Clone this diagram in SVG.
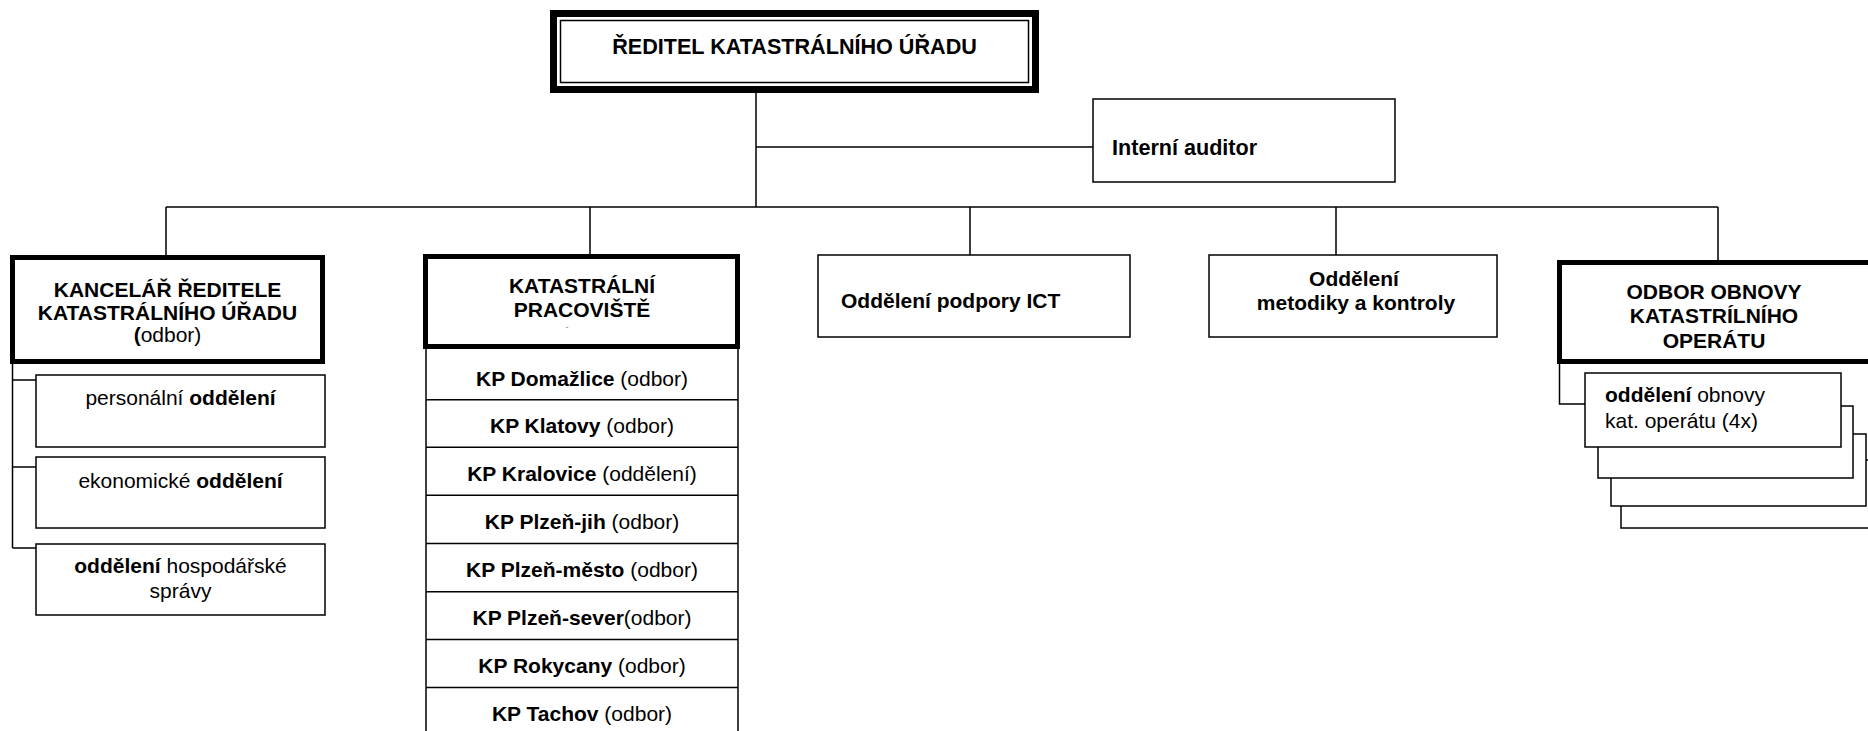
<svg xmlns="http://www.w3.org/2000/svg" width="1868" height="731" viewBox="0 0 1868 731">
<style>
text{font-family:"Liberation Sans",Arial,sans-serif;font-size:21px;fill:#000}
.b{font-weight:bold}
.c{text-anchor:middle}
.thin{fill:#fff;stroke:#000;stroke-width:1.5}
.thick{fill:#fff;stroke:#000;stroke-width:5}
.ln{fill:none;stroke:#000;stroke-width:1.5}
</style>
<rect width="1868" height="731" fill="#fff"/>
<g id="connectors" class="ln">
<path d="M756 93V207M756 147H1093M166 207H1718M166 207V255M590 207V254M970 207V255M1336 207V255M1718 207V260"/>
<path d="M12.5 364V548M12.5 380H36M12.5 467H36M12.5 548H36"/>
<path d="M1559.5 364V404H1585"/>
</g>
<g id="reditel">
<rect x="553.5" y="13.5" width="482" height="76" fill="#fff" stroke="#000" stroke-width="7"/>
<rect x="560.5" y="20.5" width="468" height="62" fill="none" stroke="#000" stroke-width="1.5"/>
<text class="b c" x="794.5" y="54" style="font-size:21.6px">ŘEDITEL KATASTRÁLNÍHO ÚŘADU</text>
</g>
<g id="auditor">
<rect class="thin" x="1093" y="99" width="302" height="83"/>
<text class="b" x="1112" y="155" style="font-size:21.6px">Interní auditor</text>
</g>
<g id="kancelar">
<rect class="thick" x="12.5" y="257.5" width="310" height="104"/>
<text class="b c" x="167.5" y="297">KANCELÁŘ ŘEDITELE</text>
<text class="b c" x="167.5" y="319.5">KATASTRÁLNÍHO ÚŘADU</text>
<text class="c" x="167.5" y="342"><tspan class="b">(</tspan>odbor)</text>
</g>
<g id="personalni">
<rect class="thin" x="36" y="375" width="289" height="72"/>
<text class="c" x="180.5" y="405">personální <tspan class="b">oddělení</tspan></text>
</g>
<g id="ekonomicke">
<rect class="thin" x="36" y="457" width="289" height="71"/>
<text class="c" x="180.5" y="488">ekonomické <tspan class="b">oddělení</tspan></text>
</g>
<g id="hospodarske">
<rect class="thin" x="36" y="544" width="289" height="71"/>
<text class="c" x="180.5" y="573"><tspan class="b">oddělení</tspan> hospodářské</text>
<text class="c" x="180.5" y="598">správy</text>
</g>
<g id="kp">
<path class="ln" d="M426 347V740M738 347V740M426 399.8H738M426 447.2H738M426 495.3H738M426 543.6H738M426 591.8H738M426 639.6H738M426 687.6H738"/>
<rect class="thick" x="425.5" y="256.5" width="312" height="90"/>
<text class="b c" x="582" y="293">KATASTRÁLNÍ</text>
<text class="b c" x="582" y="317">PRACOVIŠTĚ</text>
<text class="c" x="567" y="330" style="font-size:9px;fill:#888">-</text>
<text class="c" x="582" y="386"><tspan class="b">KP Domažlice</tspan> (odbor)</text>
<text class="c" x="582" y="433"><tspan class="b">KP Klatovy</tspan> (odbor)</text>
<text class="c" x="582" y="481"><tspan class="b">KP Kralovice</tspan> (oddělení)</text>
<text class="c" x="582" y="529"><tspan class="b">KP Plzeň-jih</tspan> (odbor)</text>
<text class="c" x="582" y="577"><tspan class="b">KP Plzeň-město</tspan> (odbor)</text>
<text class="c" x="582" y="625"><tspan class="b">KP Plzeň-sever</tspan>(odbor)</text>
<text class="c" x="582" y="673"><tspan class="b">KP Rokycany</tspan> (odbor)</text>
<text class="c" x="582" y="721"><tspan class="b">KP Tachov</tspan> (odbor)</text>
</g>
<g id="ict">
<rect class="thin" x="818" y="255" width="312" height="82"/>
<text class="b" x="841" y="308">Oddělení podpory ICT</text>
</g>
<g id="metodiky">
<rect class="thin" x="1209" y="255" width="288" height="82"/>
<text class="b c" x="1354" y="286">Oddělení</text>
<text class="b c" x="1356" y="310">metodiky a kontroly</text>
</g>
<g id="odbor-obnovy">
<rect class="thick" x="1559.5" y="262.5" width="320" height="99"/>
<text class="b c" x="1714" y="299">ODBOR OBNOVY</text>
<text class="b c" x="1714" y="323">KATASTRÍLNÍHO</text>
<text class="b c" x="1714" y="348">OPERÁTU</text>
</g>
<g id="oddeleni-obnovy">
<rect class="thin" x="1621" y="460" width="260" height="68"/>
<rect class="thin" x="1611" y="434" width="255" height="72"/>
<rect class="thin" x="1598" y="406" width="255" height="72"/>
<rect class="thin" x="1585" y="373" width="256" height="74"/>
<text x="1605" y="402"><tspan class="b">oddělení</tspan> obnovy</text>
<text x="1605" y="428">kat. operátu (4x)</text>
</g>
</svg>
